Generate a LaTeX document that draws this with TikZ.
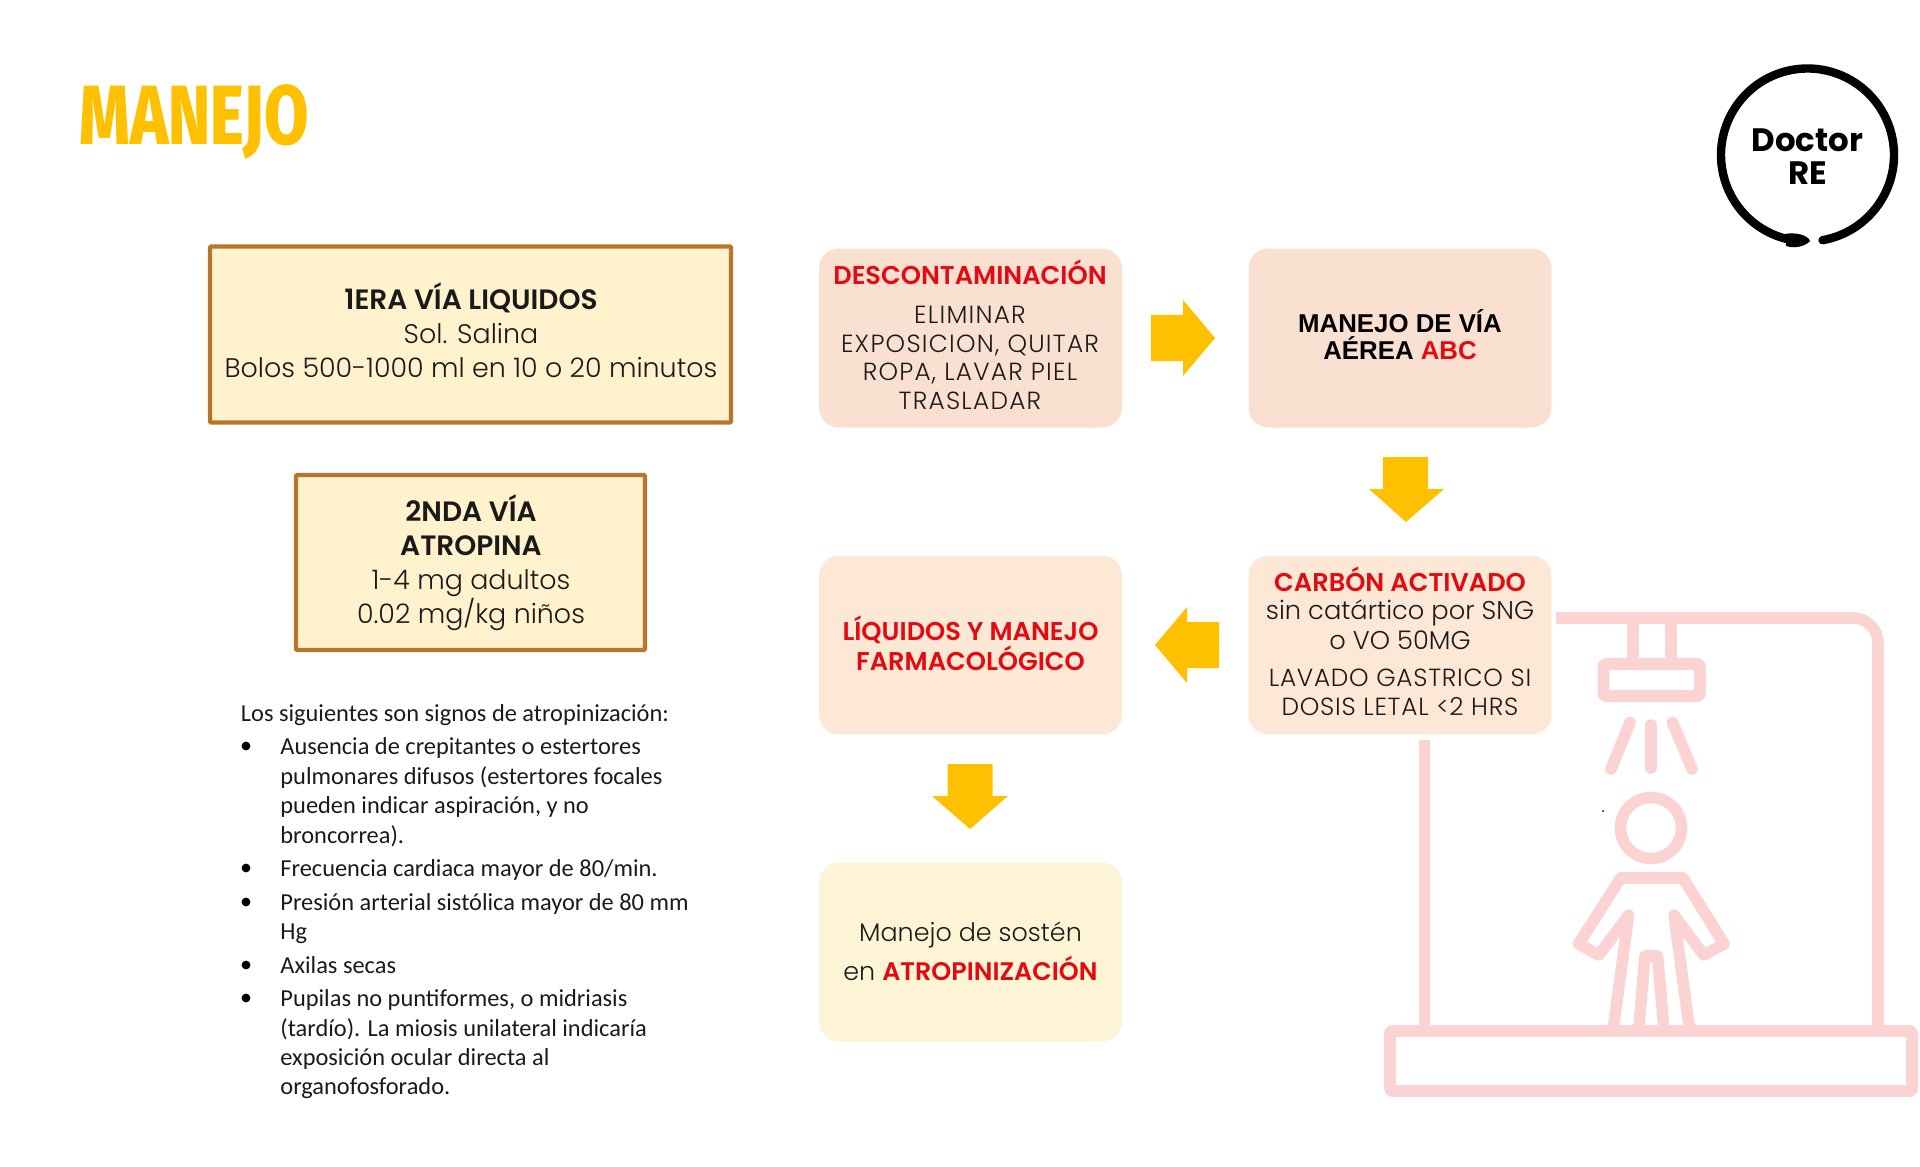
\documentclass[tikz,border=0pt]{standalone}
\usepackage{fontspec}
\usepackage{graphicx}
\setmainfont{Poppins}[UprightFont=* Light,BoldFont=* SemiBold]
\newfontfamily\arialf{Liberation Sans}
\newfontfamily\listf{Carlito}
\newfontfamily\titlef{Fira Sans}[UprightFont=* ExtraBold]
\newfontfamily\logof{Poppins}[UprightFont=* Bold]
\definecolor{gold}{HTML}{FFC000}
\definecolor{redtxt}{HTML}{E30A12}
\definecolor{pinkA}{HTML}{FAE0D1}
\definecolor{pinkB}{HTML}{FDE8D6}
\definecolor{creamC}{HTML}{FEF4D6}
\definecolor{creamY}{HTML}{FFF2CC}
\definecolor{brownb}{HTML}{B8762A}
\definecolor{showerc}{HTML}{FBD3D3}
\definecolor{inktx}{HTML}{1A1A1A}
\newcommand{\rd}[1]{\textcolor{redtxt}{\bfseries #1}}
\newcommand{\bh}[1]{{\bfseries\fontsize{14}{17}\selectfont #1}}
\tikzset{
  yellowbox/.style={draw=brownb,fill=creamY,line width=2.2pt,rounded corners=0.6pt,inner sep=0pt},
  softbox/.style={rounded corners=10pt,inner sep=0pt,minimum width=151.5pt,minimum height=89.5pt},
  blocktxt/.style={inner sep=0pt,align=center,text=inktx,font=\fontsize{13.45}{17}\selectfont},
  flowtxt/.style={inner sep=0pt,align=center,text=inktx,font=\fontsize{12.4}{14.3}\selectfont\addfontfeature{LetterSpace=5}},
  flowhead/.style={inner sep=0pt,align=center,text=inktx,font=\fontsize{12.85}{14.8}\selectfont},
  arrowblk/.style={fill=gold,draw=none},
  lst/.style={inner sep=0pt,anchor=base west,text=inktx,font=\listf\fontsize{12.2}{14}\selectfont},
  bull/.style={circle,fill=black,inner sep=0pt,minimum size=4.4pt},
  shw/.style={draw=showerc,line width=5.8pt,line join=round},
}
\begin{document}
\begin{tikzpicture}[x=0.5pt,y=-0.5pt]
\useasboundingbox (0,0) rectangle (1920,1166);
% title
\node[inner sep=0pt,text=gold] (title) at (194,122) {\scalebox{0.765}[1]{\titlef\fontsize{42}{42}\selectfont MANEJO}};
% shower
\draw[shw,rounded corners=12.5pt] (1556,618) -- (1878,618) -- (1878,1031);
\draw[shw] (1424.5,740) -- (1424.5,1031);
\draw[shw,rounded corners=1pt] (1390,1031) rectangle (1912,1091);
\draw[shw] (1633,618) -- (1633,664);
\draw[shw] (1671,618) -- (1671,664);
\draw[shw,rounded corners=1pt] (1603.5,664) rectangle (1700,696);
\draw[shw,line cap=round] (1651,725) -- (1651,768);
\draw[shw,line cap=round] (1630,722.5) -- (1611,769);
\draw[shw,line cap=round] (1672.5,722.5) -- (1692,769);
\draw[shw] (1651,828) circle[radius=30.5];
\draw[shw] (1613.6,1026) -- (1628.6,915) -- (1599,955) -- (1578.6,944) -- (1620.7,878) -- (1683,878) -- (1724,944) -- (1703.6,955) -- (1674,915) -- (1689,1026);
\draw[shw] (1639,1026) -- (1645,956) -- (1657.5,956) -- (1663.6,1026);
\fill[black] (1603,811) circle[radius=1];
% left boxes
\node[yellowbox,minimum width=260.5pt,minimum height=88pt] (via1) at (470.5,334.5) {};
\node[blocktxt] (via1t) at (471,330.5) {\bh{1ERA VÍA LIQUIDOS}\\Sol. Salina\\Bolos 500-1000 ml en 10 o 20 minutos};
\node[yellowbox,minimum width=174.5pt,minimum height=87.5pt] (via2) at (470.5,562.5) {};
\node[blocktxt] (via2t) at (471,563) {\bh{2NDA VÍA}\\\bh{ATROPINA}\\1-4 mg adultos\\0.02 mg/kg niños};
% list
\node[lst] (l0) at (240.5,721) {Los siguientes son signos de atropinización:};
\node[lst] (l1) at (280,754) {Ausencia de crepitantes o estertores};
\node[lst] (l2) at (280,784) {pulmonares difusos (estertores focales};
\node[lst] (l3) at (280,813) {pueden indicar aspiración, y no};
\node[lst] (l4) at (280,843) {broncorrea).};
\node[lst] (l5) at (280,876) {Frecuencia cardiaca mayor de 80/min.};
\node[lst] (l6) at (280,910) {Presión arterial sistólica mayor de 80 mm};
\node[lst] (l7) at (280,939) {Hg};
\node[lst] (l8) at (280,973) {Axilas secas};
\node[lst] (l9) at (280,1006) {Pupilas no puntiformes, o midriasis};
\node[lst] (l10) at (280,1036) {(tardío). La miosis unilateral indicaría};
\node[lst] (l11) at (280,1065) {exposición ocular directa al};
\node[lst] (l12) at (280,1094) {organofosforado.};
\node[bull] (b1) at (246,746) {};
\node[bull] (b2) at (246,868) {};
\node[bull] (b3) at (246,902) {};
\node[bull] (b4) at (246,965) {};
\node[bull] (b5) at (246,998) {};
% flow boxes
\node[softbox,fill=pinkA] (f1) at (970.5,338) {};
\node[softbox,fill=pinkA] (f2) at (1400,338) {};
\node[softbox,fill=pinkB] (f3) at (1400,645) {};
\node[softbox,fill=pinkB] (f4) at (970.5,645) {};
\node[softbox,fill=creamC] (f5) at (970.5,952) {};
\node[flowhead] (f1a) at (970,272) {\rd{DESCONTAMINACIÓN}};
\node[flowtxt] (f1b) at (970,358) {ELIMINAR\\EXPOSICION, QUITAR\\ROPA, LAVAR PIEL\\TRASLADAR};
\node[inner sep=0pt,align=center,text=black,font=\arialf\bfseries\fontsize{12.9}{13.5}\selectfont] (f2a) at (1400,335) {MANEJO DE VÍA\\AÉREA \textcolor{redtxt}{ABC}};
\node[flowhead] (f3a) at (1400,579) {\rd{CARBÓN ACTIVADO}};
\node[flowhead] (f3b) at (1400,625) {sin catártico por SNG\\o VO 50MG};
\node[flowtxt,font=\fontsize{12.4}{14.5}\selectfont\addfontfeature{LetterSpace=3}] (f3c) at (1400,692.5) {LAVADO GASTRICO SI\\DOSIS LETAL <2 HRS};
\node[flowhead] (f4a) at (970.5,643.5) {\rd{LÍQUIDOS Y MANEJO}\\\rd{FARMACOLÓGICO}};
\node[flowhead,font=\fontsize{12.7}{19.6}\selectfont] (f5a) at (970.5,951.5) {Manejo de sostén\\en \rd{ATROPINIZACIÓN}};
% arrows
\fill[arrowblk] (1151,315) -- (1183,315) -- (1183,300) -- (1215,338) -- (1183,376) -- (1183,361) -- (1151,361) -- cycle;
\fill[arrowblk] (1383,457) -- (1428,457) -- (1428,489) -- (1444,489) -- (1406,522) -- (1369,489) -- (1383,489) -- cycle;
\fill[arrowblk] (1219,622) -- (1187,622) -- (1187,607) -- (1155,645) -- (1187,683) -- (1187,668) -- (1219,668) -- cycle;
\fill[arrowblk] (947.5,764) -- (992.5,764) -- (992.5,796) -- (1008,796) -- (970,829) -- (932,796) -- (947.5,796) -- cycle;
% logo
\draw[black,line width=4.2pt,line cap=round] (1807.5,155) ++(80:86.5) arc[start angle=80,end angle=-263,radius=86.5];
\fill[black] (1785,234) .. controls (1795,232) and (1808,235) .. (1810,241) .. controls (1806,246) and (1795,249) .. (1786,246) -- cycle;
\node[inner sep=0pt,align=center,text=black,font=\logof\fontsize{16.2}{16.2}\selectfont] (logo) at (1807.5,156.5) {Doctor\\RE};
\end{tikzpicture}
\end{document}
